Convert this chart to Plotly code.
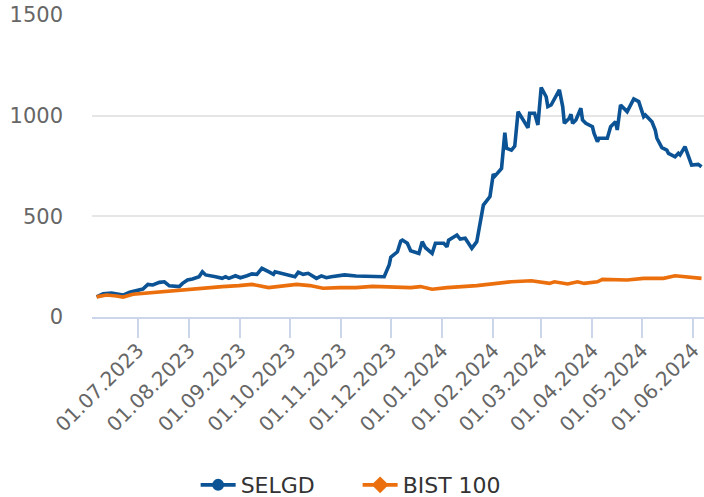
import plotly.graph_objects as go

selgd_dates = [
    "2023-06-06", "2023-06-10", "2023-06-15", "2023-06-19", "2023-06-22", "2023-06-26",
    "2023-07-04", "2023-07-07", "2023-07-10", "2023-07-14", "2023-07-17", "2023-07-20",
    "2023-07-26", "2023-07-28", "2023-07-31", "2023-08-03", "2023-08-07", "2023-08-09",
    "2023-08-11", "2023-08-17", "2023-08-21", "2023-08-23", "2023-08-25", "2023-08-29",
    "2023-09-01", "2023-09-05", "2023-09-08", "2023-09-11", "2023-09-14", "2023-09-18",
    "2023-09-21", "2023-09-22", "2023-09-27", "2023-10-02", "2023-10-04", "2023-10-06",
    "2023-10-09", "2023-10-12", "2023-10-15", "2023-10-17", "2023-10-20", "2023-10-23",
    "2023-10-26", "2023-11-03", "2023-11-10", "2023-11-20", "2023-11-27", "2023-11-30",
    "2023-12-01", "2023-12-05", "2023-12-07", "2023-12-08", "2023-12-11", "2023-12-13",
    "2023-12-15", "2023-12-18", "2023-12-20", "2023-12-22", "2023-12-26", "2023-12-28",
    "2024-01-02", "2024-01-04", "2024-01-05", "2024-01-10", "2024-01-12", "2024-01-15",
    "2024-01-17", "2024-01-19", "2024-01-22", "2024-01-24", "2024-01-26", "2024-01-30",
    "2024-02-01", "2024-02-02", "2024-02-06", "2024-02-08", "2024-02-09", "2024-02-12",
    "2024-02-14", "2024-02-16", "2024-02-20", "2024-02-22", "2024-02-23", "2024-02-26",
    "2024-02-28", "2024-03-01", "2024-03-04", "2024-03-05", "2024-03-07", "2024-03-12",
    "2024-03-14", "2024-03-15", "2024-03-18", "2024-03-19", "2024-03-20", "2024-03-22",
    "2024-03-25", "2024-03-26", "2024-03-28", "2024-04-01", "2024-04-02", "2024-04-04",
    "2024-04-05", "2024-04-10", "2024-04-12", "2024-04-15", "2024-04-16", "2024-04-18",
    "2024-04-22", "2024-04-26", "2024-04-29", "2024-05-02", "2024-05-03", "2024-05-07",
    "2024-05-09", "2024-05-10", "2024-05-13", "2024-05-16", "2024-05-17", "2024-05-21",
    "2024-05-23", "2024-05-24", "2024-05-27", "2024-05-30", "2024-05-31", "2024-06-04",
    "2024-06-06",
]
selgd_values = [
    100, 116, 119, 114, 109, 123,
    139, 162, 159, 172, 175, 155,
    151, 167, 184, 189, 200, 225,
    209, 200, 192, 200, 192, 205,
    195, 205, 214, 212, 242, 225,
    212, 225, 214, 204, 200, 222,
    212, 217, 200, 192, 204, 195,
    200, 209, 204, 200, 200, 258,
    297, 324, 377, 382, 366, 329,
    324, 316, 374, 344, 316, 366,
    366, 349, 382, 407, 387, 391,
    366, 341, 374, 465, 556, 598,
    710, 700, 738, 916, 838, 829,
    849, 1020, 962, 940, 1012, 1012,
    954, 1140, 1094, 1045, 1053, 1128,
    1045, 962, 987, 1007, 962, 979,
    1037, 979, 962, 945, 912, 871,
    888, 888, 945, 970, 929, 1053,
    1020, 1083, 1070, 995, 1003, 970,
    929, 888, 841, 829, 813, 796,
    813, 805, 846, 780, 755, 758,
    746,
]

bist_dates = [
    "2023-06-06", "2023-06-12", "2023-06-18", "2023-06-22", "2023-06-28", "2023-07-12",
    "2023-07-24", "2023-08-01", "2023-08-11", "2023-08-21", "2023-08-31", "2023-09-08",
    "2023-09-18", "2023-09-27", "2023-10-05", "2023-10-13", "2023-10-21", "2023-10-31",
    "2023-11-10", "2023-11-20", "2023-12-03", "2023-12-13", "2023-12-19", "2023-12-26",
    "2024-01-04", "2024-01-22", "2024-02-12", "2024-02-24", "2024-03-06", "2024-03-09",
    "2024-03-17", "2024-03-23", "2024-03-27", "2024-04-04", "2024-04-07", "2024-04-22",
    "2024-05-02", "2024-05-14", "2024-05-21", "2024-06-02", "2024-06-06",
]
bist_values = [
    100, 109, 104, 99, 113, 123,
    133, 139, 147, 151, 156, 162,
    146, 156, 162, 156, 143, 146,
    146, 152, 151, 146, 151, 138,
    146, 156, 175, 180, 167, 175,
    164, 175, 167, 175, 187, 184,
    192, 192, 205, 197, 192,
]

y_ticks = [0, 500, 1000, 1500]
series_names = ["SELGD", "BIST 100"]

BLUE = "#0b5394"
ORANGE = "#ec6f0d"
FONT = "DejaVu Sans"

fig = go.Figure()
fig.add_trace(go.Scatter(x=selgd_dates, y=selgd_values, mode="lines",
                         line=dict(color=BLUE, width=3.6), showlegend=False,
                         name=series_names[0]))
fig.add_trace(go.Scatter(x=bist_dates, y=bist_values, mode="lines",
                         line=dict(color=ORANGE, width=3.6), showlegend=False,
                         name=series_names[1]))
# legend entries
fig.add_trace(go.Scatter(x=[None], y=[None], mode="lines+markers", name=series_names[0],
                         line=dict(color=BLUE, width=3.6),
                         marker=dict(symbol="circle", size=12, color=BLUE)))
fig.add_trace(go.Scatter(x=[None], y=[None], mode="lines+markers", name=series_names[1],
                         line=dict(color=ORANGE, width=3.6),
                         marker=dict(symbol="diamond", size=13, color=ORANGE)))

fig.update_layout(
    width=704, height=497,
    margin=dict(l=92, r=0, t=15, b=180),
    paper_bgcolor="white", plot_bgcolor="white",
    font=dict(family=FONT, size=21, color="#666666"),
    legend=dict(orientation="h", xref="container", yref="container",
                x=0.508, xanchor="center", y=0.024, yanchor="middle",
                font=dict(family=FONT, size=22, color="#333333"),
                itemwidth=35, entrywidth=112, bgcolor="rgba(0,0,0,0)"),
)
fig.update_xaxes(
    type="date", automargin=False,
    range=["2023-06-03 05:00", "2024-06-07 12:00"],
    tick0="2023-07-01", dtick="M1", tickformat="%d.%m.%Y",
    tickangle=-45, ticklabeloverflow="allow", ticklabelstandoff=-7,
    showgrid=False, zeroline=False,
    showline=True, linecolor="#ccd6eb", linewidth=1.5,
    ticks="outside", ticklen=19, tickwidth=1.5, tickcolor="#ccd6eb",
    tickfont=dict(family=FONT, size=20, color="#666666"),
)
fig.update_yaxes(
    range=[0, 1500], tickvals=y_ticks, automargin=False,
    showgrid=True, gridcolor="#e6e6e6", gridwidth=2,
    zeroline=False, showline=False,
    ticklabelstandoff=28,
    tickfont=dict(family=FONT, size=21, color="#666666"),
)

fig.write_html(
    "out.html",
    config={"displayModeBar": False},
    post_script="document.body.style.margin='0';document.body.style.overflow='hidden';",
)
